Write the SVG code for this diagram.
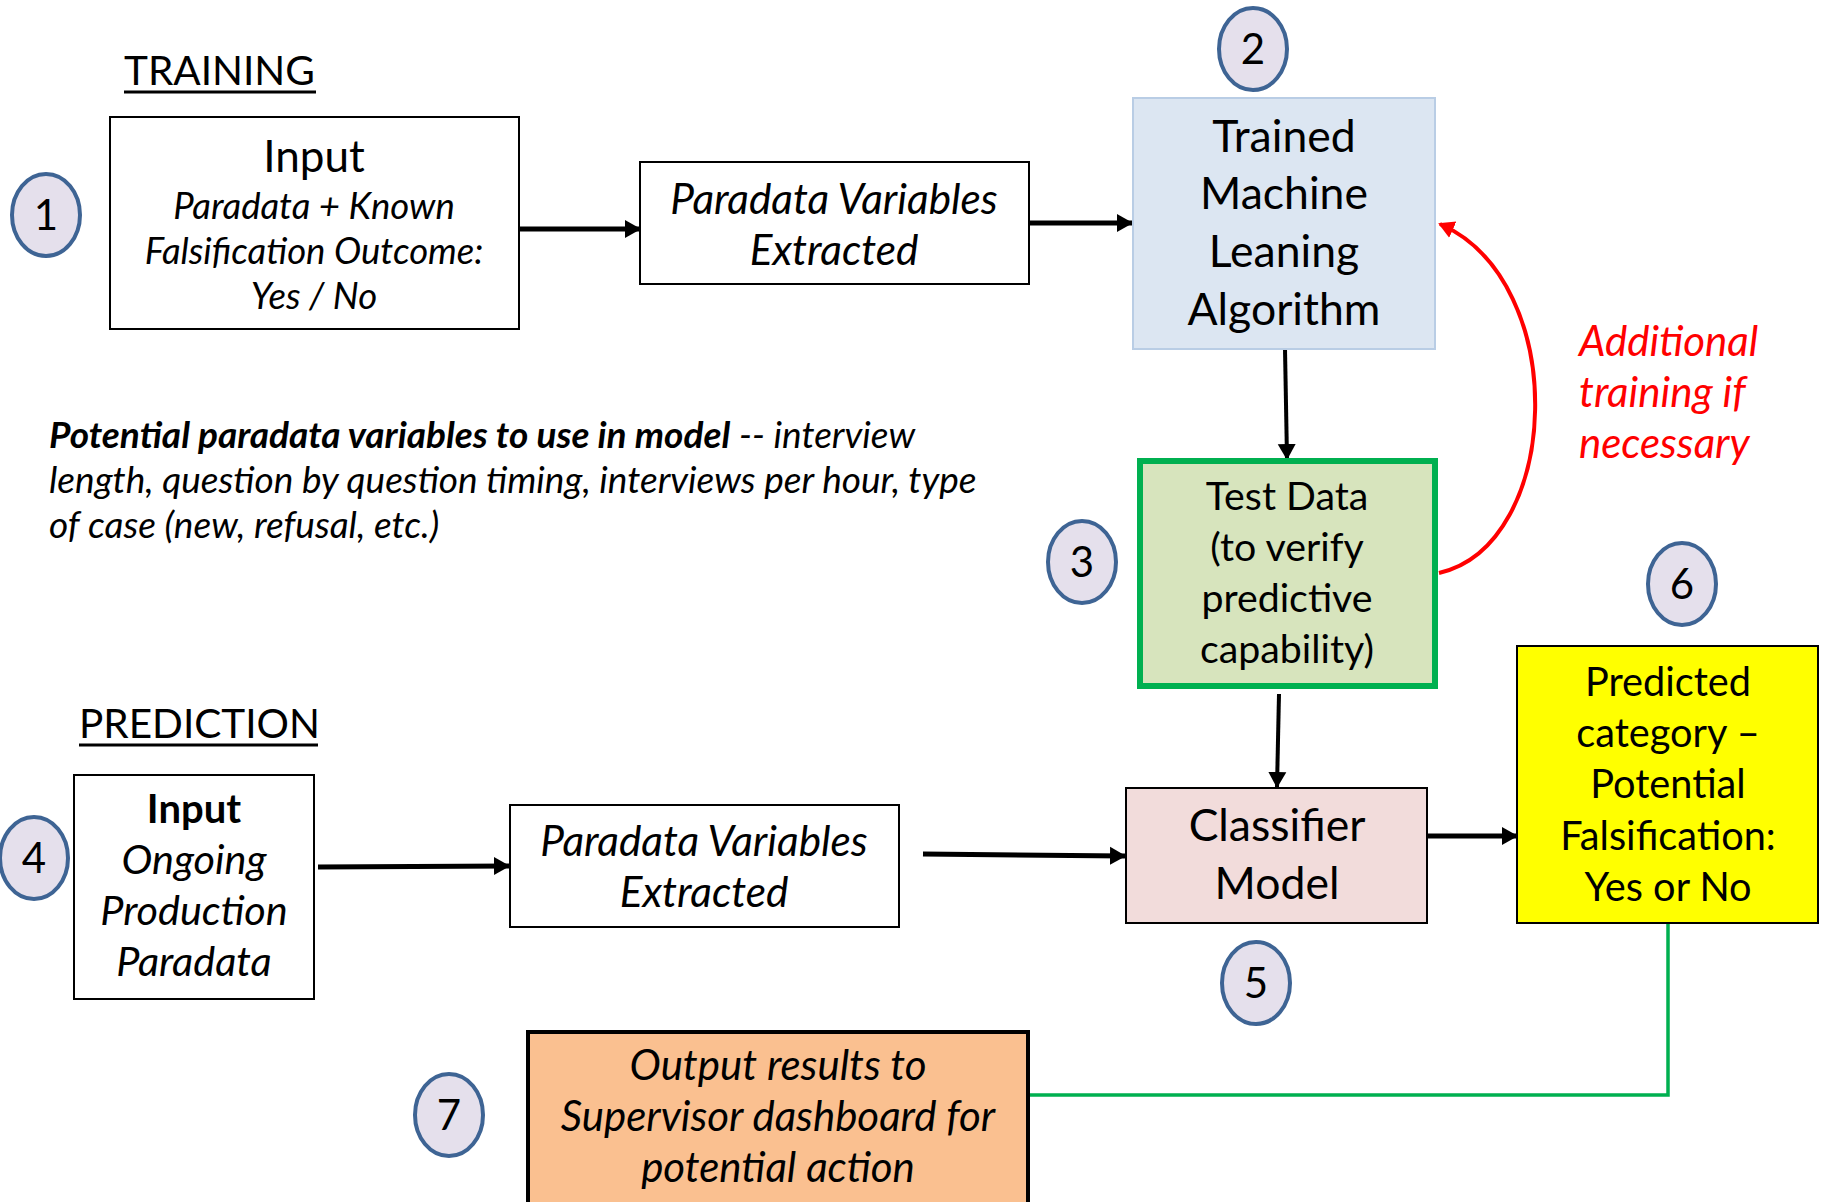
<svg xmlns="http://www.w3.org/2000/svg" width="1825" height="1202" viewBox="0 0 1825 1202">
  <defs>
    <marker id="arrow" markerUnits="userSpaceOnUse" markerWidth="16" markerHeight="20" refX="15" refY="10" orient="auto">
      <path d="M0,1 L16,10 L0,19 z" fill="#000"/>
    </marker>
    <marker id="arrow-red" markerUnits="userSpaceOnUse" markerWidth="16" markerHeight="20" refX="14" refY="10" orient="auto">
      <path d="M0,1 L16,10 L0,19 z" fill="#ff0000"/>
    </marker>
  </defs>
  <style>
    text { font-family: Lato, "Liberation Sans", sans-serif; fill: #000; }
    .c { text-anchor: middle; }
    .big { font-size: 44.5px; }
    .it { font-style: italic; }
    .heading { font-size: 40.5px; }
    .badge ellipse { fill: #e5e0ec; stroke: #3e6494; stroke-width: 4; }
    .badge text { font-size: 42px; text-anchor: middle; }
    .box { stroke: #000; stroke-width: 2; }
    .conn { fill: none; stroke: #000; }
    .note { font-style: italic; font-size: 42px; fill: #ff0000; }
  </style>

  <!-- section headings -->
  <g id="heading-training">
    <text x="124" y="85" class="heading">TRAINING</text>
    <line x1="124" y1="92" x2="316" y2="92" stroke="#000" stroke-width="3"/>
  </g>
  <g id="heading-prediction">
    <text x="79" y="738" class="heading">PREDICTION</text>
    <line x1="79" y1="745" x2="318" y2="745" stroke="#000" stroke-width="3"/>
  </g>

  <!-- connectors -->
  <g id="connectors">
    <line class="conn" x1="519" y1="229" x2="640" y2="229" stroke-width="5" marker-end="url(#arrow)"/>
    <line class="conn" x1="1029" y1="223" x2="1132" y2="223" stroke-width="5" marker-end="url(#arrow)"/>
    <line class="conn" x1="1285" y1="349" x2="1287" y2="459" stroke-width="4" marker-end="url(#arrow)"/>
    <path d="M1439,573 C1562,545 1572,282 1440,224" fill="none" stroke="#ff0000" stroke-width="4" marker-end="url(#arrow-red)"/>
    <line class="conn" x1="1279" y1="694" x2="1277" y2="787" stroke-width="4" marker-end="url(#arrow)"/>
    <line class="conn" x1="318" y1="867" x2="509" y2="866" stroke-width="5" marker-end="url(#arrow)"/>
    <line class="conn" x1="923" y1="854" x2="1125" y2="856" stroke-width="5" marker-end="url(#arrow)"/>
    <line class="conn" x1="1427" y1="836" x2="1517" y2="836" stroke-width="5" marker-end="url(#arrow)"/>
    <polyline points="1668,923 1668,1095 1028,1095" fill="none" stroke="#00b050" stroke-width="3.5"/>
  </g>

  <!-- 1: training input -->
  <g id="node-input-training">
    <rect class="box" x="110" y="117" width="409" height="212" fill="#fff"/>
    <text x="314" y="172" class="c" font-size="44">Input</text>
    <text x="314" y="219" class="c it" font-size="36.5">Paradata + Known</text>
    <text x="314" y="264" class="c it" font-size="36.5">Falsification Outcome:</text>
    <text x="314" y="309" class="c it" font-size="36.5">Yes / No</text>
  </g>

  <!-- training: extracted variables -->
  <g id="node-variables-training">
    <rect class="box" x="640" y="162" width="389" height="122" fill="#fff"/>
    <text x="834" y="214" class="c it" font-size="42.3">Paradata Variables</text>
    <text x="834" y="265" class="c it" font-size="42.3">Extracted</text>
  </g>

  <!-- 2: trained algorithm -->
  <g id="node-algorithm">
    <rect x="1133" y="98" width="302" height="251" fill="#dce6f2" stroke="#b9cde5" stroke-width="2"/>
    <text x="1284" y="152" class="c big">Trained</text>
    <text x="1284" y="209" class="c big">Machine</text>
    <text x="1284" y="267" class="c big">Leaning</text>
    <text x="1284" y="325" class="c big">Algorithm</text>
  </g>

  <!-- 3: test data -->
  <g id="node-test-data">
    <rect x="1140" y="461" width="295" height="225" fill="#d7e4bd" stroke="#00b050" stroke-width="6"/>
    <text x="1287" y="510" class="c" font-size="39.3">Test Data</text>
    <text x="1287" y="561" class="c" font-size="39.3">(to verify</text>
    <text x="1287" y="612" class="c" font-size="39.3">predictive</text>
    <text x="1287" y="663" class="c" font-size="39.3">capability)</text>
  </g>

  <!-- retraining note -->
  <g id="label-retrain">
    <text x="1579" y="356" class="note">Additional</text>
    <text x="1579" y="407" class="note">training if</text>
    <text x="1579" y="458" class="note">necessary</text>
  </g>

  <!-- candidate paradata variables -->
  <g id="label-variables">
    <text x="49" y="448" class="it" font-size="37"><tspan font-weight="bold">Potential paradata variables to use in model</tspan> -- interview</text>
    <text x="49" y="493" class="it" font-size="37">length, question by question timing, interviews per hour, type</text>
    <text x="49" y="538" class="it" font-size="37">of case (new, refusal, etc.)</text>
  </g>

  <!-- 4: prediction input -->
  <g id="node-input-prediction">
    <rect class="box" x="74" y="775" width="240" height="224" fill="#fff"/>
    <text x="194" y="823" class="c" font-size="40" font-weight="bold">Input</text>
    <text x="194" y="874" class="c it" font-size="41.4">Ongoing</text>
    <text x="194" y="925" class="c it" font-size="41.4">Production</text>
    <text x="194" y="976" class="c it" font-size="41.4">Paradata</text>
  </g>

  <!-- prediction: extracted variables -->
  <g id="node-variables-prediction">
    <rect class="box" x="510" y="805" width="389" height="122" fill="#fff"/>
    <text x="704" y="856" class="c it" font-size="42.3">Paradata Variables</text>
    <text x="704" y="907" class="c it" font-size="42.3">Extracted</text>
  </g>

  <!-- 5: classifier -->
  <g id="node-classifier">
    <rect class="box" x="1126" y="788" width="301" height="135" fill="#f2dcdb"/>
    <text x="1277" y="841" class="c big">Classifier</text>
    <text x="1277" y="899" class="c big">Model</text>
  </g>

  <!-- 6: predicted category -->
  <g id="node-prediction">
    <rect class="box" x="1517" y="646" width="301" height="277" fill="#ffff00"/>
    <text x="1668" y="696" class="c" font-size="39.7">Predicted</text>
    <text x="1668" y="747" class="c" font-size="39.7">category –</text>
    <text x="1668" y="798" class="c" font-size="39.7">Potential</text>
    <text x="1668" y="850" class="c" font-size="39.7">Falsification:</text>
    <text x="1668" y="901" class="c" font-size="39.7">Yes or No</text>
  </g>

  <!-- 7: dashboard output -->
  <g id="node-output">
    <rect x="528" y="1032" width="500" height="190" fill="#fac090" stroke="#000" stroke-width="4"/>
    <text x="778" y="1080" class="c it" font-size="42">Output results to</text>
    <text x="778" y="1131" class="c it" font-size="42">Supervisor dashboard for</text>
    <text x="778" y="1182" class="c it" font-size="42">potential action</text>
  </g>

  <!-- step badges -->
  <g id="badge-1" class="badge"><ellipse cx="46" cy="215" rx="34" ry="41"/><text x="46" y="230">1</text></g>
  <g id="badge-2" class="badge"><ellipse cx="1253" cy="49" rx="34" ry="41"/><text x="1253" y="64">2</text></g>
  <g id="badge-3" class="badge"><ellipse cx="1082" cy="562" rx="34" ry="41"/><text x="1082" y="577">3</text></g>
  <g id="badge-4" class="badge"><ellipse cx="34" cy="858" rx="34" ry="41"/><text x="34" y="873">4</text></g>
  <g id="badge-5" class="badge"><ellipse cx="1256" cy="983" rx="34" ry="41"/><text x="1256" y="998">5</text></g>
  <g id="badge-6" class="badge"><ellipse cx="1682" cy="584" rx="34" ry="41"/><text x="1682" y="599">6</text></g>
  <g id="badge-7" class="badge"><ellipse cx="449" cy="1115" rx="34" ry="41"/><text x="449" y="1130">7</text></g>
</svg>
